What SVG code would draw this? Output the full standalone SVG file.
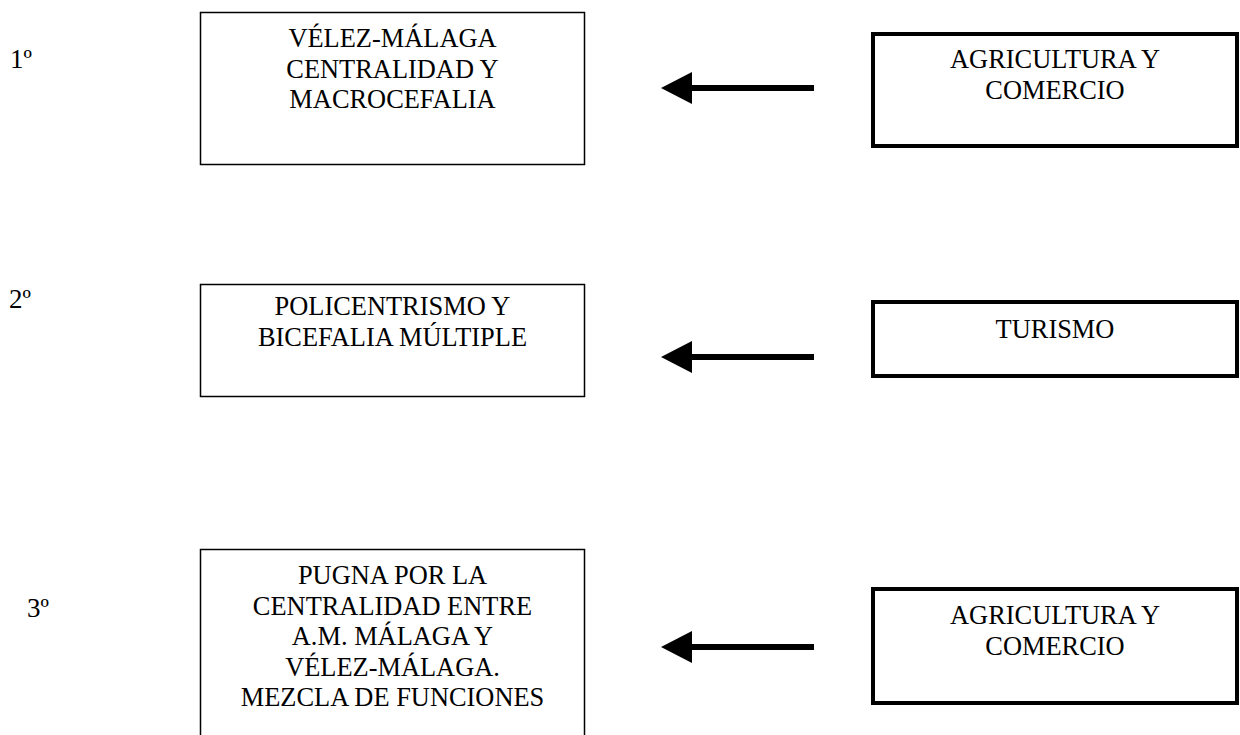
<svg xmlns="http://www.w3.org/2000/svg" width="1240" height="735" viewBox="0 0 1240 735">
<defs>
<style>
text{font-family:"Liberation Serif","Times New Roman",serif;font-size:26.4px;fill:#000;}
.c{text-anchor:middle;}
.lbl{font-size:27px;}
.thin{fill:#fff;stroke:#000;stroke-width:1.5;}
.thick{fill:#fff;stroke:#000;stroke-width:4;}
.shaft{stroke:#000;stroke-width:6;fill:none;}
.head{fill:#000;stroke:none;}
</style>
</defs>
<rect width="1240" height="735" fill="#fff"/>
<g id="labels">
<text class="lbl" x="10" y="68">1º</text>
<text class="lbl" x="9" y="308">2º</text>
<text class="lbl" x="27" y="617">3º</text>
</g>
<g id="node-velez">
<rect class="thin" x="200.5" y="12.5" width="384" height="152"/>
<text class="c" x="392.5" y="47">VÉLEZ-MÁLAGA</text>
<text class="c" x="392.5" y="77.5">CENTRALIDAD Y</text>
<text class="c" x="392.5" y="108">MACROCEFALIA</text>
</g>
<g id="node-agri1">
<rect class="thick" x="873" y="34" width="364" height="112"/>
<text class="c" x="1055" y="68">AGRICULTURA Y</text>
<text class="c" x="1055" y="98.5">COMERCIO</text>
</g>
<g id="node-poli">
<rect class="thin" x="200.5" y="284.5" width="384" height="112"/>
<text class="c" x="392.5" y="315">POLICENTRISMO Y</text>
<text class="c" x="392.5" y="345.5">BICEFALIA MÚLTIPLE</text>
</g>
<g id="node-turismo">
<rect class="thick" x="873" y="302" width="364" height="74"/>
<text class="c" x="1055" y="337.5">TURISMO</text>
</g>
<g id="node-pugna">
<rect class="thin" x="200.5" y="549.5" width="384" height="200"/>
<text class="c" x="392.5" y="584">PUGNA POR LA</text>
<text class="c" x="392.5" y="614.5">CENTRALIDAD ENTRE</text>
<text class="c" x="392.5" y="645">A.M. MÁLAGA Y</text>
<text class="c" x="392.5" y="675.5">VÉLEZ-MÁLAGA.</text>
<text class="c" x="392.5" y="706">MEZCLA DE FUNCIONES</text>
</g>
<g id="node-agri2">
<rect class="thick" x="873" y="589" width="364" height="114"/>
<text class="c" x="1055" y="624">AGRICULTURA Y</text>
<text class="c" x="1055" y="654.5">COMERCIO</text>
</g>
<g id="connectors">
<line class="shaft" x1="690" y1="88" x2="814" y2="88"/>
<polygon class="head" points="661,88 692,72 692,104"/>
<line class="shaft" x1="690" y1="357" x2="814" y2="357"/>
<polygon class="head" points="661,357 692,341 692,373"/>
<line class="shaft" x1="690" y1="647" x2="814" y2="647"/>
<polygon class="head" points="661,647 692,631 692,663"/>
</g>
</svg>
